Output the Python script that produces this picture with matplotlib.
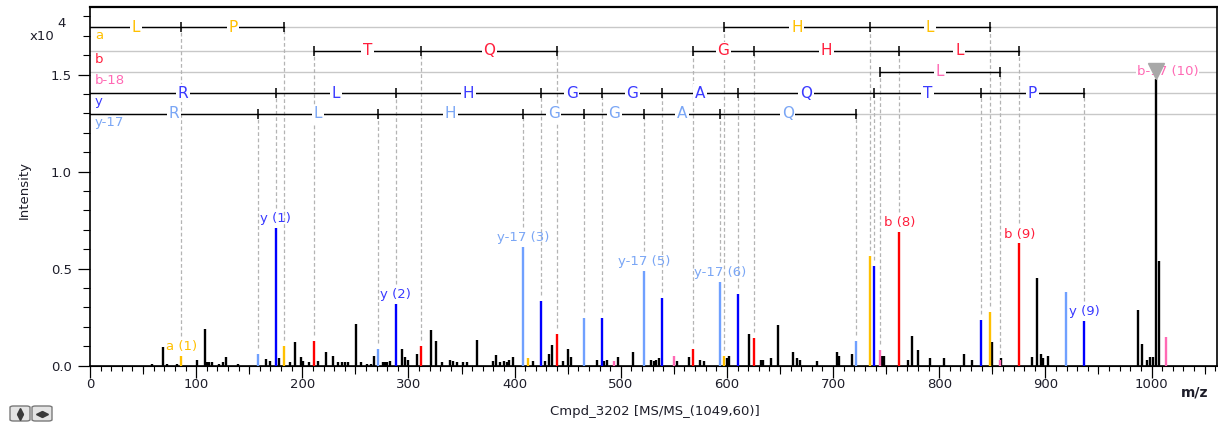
import matplotlib
matplotlib.use('Agg')
import matplotlib.pyplot as plt
from matplotlib.patches import FancyBboxPatch
from matplotlib.lines import Line2D
from matplotlib.ticker import MultipleLocator, FuncFormatter

# --- spectrum data (m/z, intensity in counts) ---
# unassigned peaks
other_mz = [58.7, 68.8, 72.5, 82.3, 100.5, 108.7, 110.5, 112.5, 114.5, 121.5, 125.0, 127.8,
            139.7, 165.5, 169.6, 177.7, 188.7, 193.1, 198.5, 201.0, 206.0, 214.8, 222.3,
            229.2, 234.0, 237.0, 240.0, 243.0, 250.8, 255.3, 260.6, 264.4, 267.5, 276.0,
            278.0, 280.0, 282.6, 294.2, 296.4, 299.3, 307.7, 321.5, 325.8, 331.9, 339.1,
            342.3, 345.4, 351.7, 354.8, 364.9, 380.0, 382.5, 386.2, 390.3, 392.5, 395.0,
            398.8, 417.6, 428.9, 432.7, 435.2, 445.6, 450.3, 453.1, 477.9, 484.5, 487.3,
            497.4, 511.8, 528.5, 531.0, 533.1, 535.7, 552.7, 564.0, 574.6, 578.7, 599.7,
            602.2, 620.5, 631.8, 634.3, 641.8, 648.0, 662.0, 665.7, 668.9, 684.6, 703.4,
            705.9, 717.6, 746.0, 748.0, 770.3, 774.1, 780.3, 791.6, 804.2, 823.4, 830.9,
            849.7, 858.5, 887.3, 892.4, 895.6, 897.5, 902.6, 987.0, 990.7, 995.7, 998.8,
            1001.7, 1004.2, 1006.6]
other_int = [90, 980, 90, 100, 310, 1870, 170, 170, 170, 100, 200, 430,
             90, 360, 240, 380, 170, 1200, 450, 240, 170, 240, 720,
             515, 170, 170, 170, 170, 2150, 170, 100, 100, 515, 170,
             170, 170, 240, 840, 450, 310, 585, 1820, 1270, 170, 310,
             240, 170, 170, 170, 1320, 240, 570, 170, 240, 170, 310,
             450, 240, 240, 585, 1050, 240, 840, 450, 310, 240, 310,
             450, 720, 310, 240, 310, 380, 240, 450, 310, 240, 380,
             515, 1630, 310, 310, 380, 2100, 720, 380, 310, 240, 720,
             500, 585, 515, 515, 310, 1550, 790, 380, 380, 585, 310,
             1200, 380, 450, 4500, 585, 380, 515, 2850, 1120, 310, 450,
             430, 15200, 5400]

# assigned fragment ions
a_mz = [86.10, 183.15, 412.26, 597.33, 734.39, 847.47]
a_int = [500, 1000, 380, 515, 5670, 2780]
b_mz = [211.14, 312.19, 440.25, 568.31, 625.33, 762.39, 875.47]
b_int = [1270, 1000, 1630, 860, 1410, 6900, 6300]
b18_mz = [493.28, 550.30, 744.38, 857.46, 1013.56]
b18_int = [240, 515, 790, 310, 1480]
y_mz = [175.12, 288.20, 425.26, 482.28, 539.30, 610.34, 738.40, 839.45, 936.50]
y_int = [7100, 3180, 3335, 2440, 3470, 3680, 5120, 2370, 2300]
y17_mz = [158.09, 271.18, 408.23, 465.25, 522.27, 593.31, 721.37, 919.47]
y17_int = [585, 840, 6130, 2440, 4900, 4300, 1270, 3800]

# sequence ladders: runs of ion m/z and the residues between them
a_ladder = [[0, 86.10, 183.15], [597.33, 734.39, 847.47]]
a_res = [['L', 'P'], ['H', 'L']]
b_ladder = [[211.14, 312.19, 440.25], [568.31, 625.33, 762.39, 875.47]]
b_res = [['T', 'Q'], ['G', 'H', 'L']]
b18_ladder = [[744.38, 857.46]]
b18_res = [['L']]
y_ladder = [[0, 175.12, 288.20, 425.26, 482.28, 539.30, 610.34, 738.40, 839.45, 936.50]]
y_res = [['R', 'L', 'H', 'G', 'G', 'A', 'Q', 'T', 'P']]
y17_ladder = [[0, 158.09, 271.18, 408.23, 465.25, 522.27, 593.31, 721.37]]
y17_res = [['R', 'L', 'H', 'G', 'G', 'A', 'Q']]

# annotated peaks
lab_mz = [86.10, 175.12, 288.20, 408.23, 522.27, 593.31, 762.39, 875.47, 936.50]
lab_txt = ['a (1)', 'y (1)', 'y (2)', 'y-17 (3)', 'y-17 (5)', 'y-17 (6)', 'b (8)', 'b (9)', 'y (9)']
prec_mz = 1004.2
prec_txt = 'b-17 (10)'
prec_txt_mz = 1015

# --- layout (pixels of the 1218x426 picture) ---
W, H = 1218, 426
AX_L, AX_R, AX_T, AX_B = 90, 1216.7, 7.3, 365.7
YMAX = 18470
XMAX = 1061.4
PX = YMAX / (AX_B - AX_T)          # intensity units per pixel
MZPX = XMAX / (AX_R - AX_L)        # m/z units per pixel
TXT = '#1e1e2a'
FS = 9.5


def row_y(py):
    return (AX_B - py) * PX


series = [
    # name, mz, int, ladder, residues, row pixel, peak colour, text colour
    ('a', a_mz, a_int, a_ladder, a_res, 27.3, '#FFC000', '#FFC000'),
    ('b', b_mz, b_int, b_ladder, b_res, 50.7, '#FF0000', '#FF1E3C'),
    ('b-18', b18_mz, b18_int, b18_ladder, b18_res, 71.7, '#FF69B4', '#FF69B4'),
    ('y', y_mz, y_int, y_ladder, y_res, 93.3, '#0000FF', '#3A3AFF'),
    ('y-17', y17_mz, y17_int, y17_ladder, y17_res, 114.0, '#6FA0FF', '#7AA6F5'),
]

fig = plt.figure(figsize=(W / 100, H / 100), dpi=100)
ax = fig.add_axes([AX_L / W, 1 - AX_B / H, (AX_R - AX_L) / W, (AX_B - AX_T) / H])
ax.set_xlim(0, XMAX)
ax.set_ylim(0, YMAX)

# unassigned peaks
ax.vlines(other_mz, 0, other_int, colors='black', lw=1.7, zorder=2.5)

all_int = dict(zip(a_mz + b_mz + b18_mz + y_mz + y17_mz,
                   a_int + b_int + b18_int + y_int + y17_int))
lab_color = {}
for name, mz, inten, ladder, res, py, pcol, tcol in series:
    yr = row_y(py)
    ax.axhline(yr, color='#C8C8C8', lw=1.0, zorder=1)
    ax.vlines(mz, 0, inten, colors=pcol, lw=1.7, zorder=2.6)
    ax.text(5 * MZPX, yr - 2 * PX, name, color=tcol,
            fontsize=FS, ha='left', va='top', zorder=4)
    for m in mz:
        lab_color[m] = tcol
    for run, rr in zip(ladder, res):
        ax.plot(run, [yr] * len(run), color='black', lw=1.0, zorder=3)
        ticks = [m for m in run if m > 0]
        ax.plot(ticks, [yr] * len(ticks), ls='none', marker='|', ms=7, mew=1.1,
                color='black', zorder=3)
        for m0, m1, r in zip(run[:-1], run[1:], rr):
            ax.text((m0 + m1) / 2, yr, r, color=tcol, fontsize=11, ha='center',
                    va='center', zorder=4,
                    bbox=dict(facecolor='white', edgecolor='none', pad=1.2))
        # dashed guides from ladder down to the matched peak
        for m in ticks:
            gap = 20 if m in lab_mz else 6
            ax.vlines(m, all_int[m] + gap * PX, yr, colors='#B4B4B4', lw=0.9,
                      linestyles=(0, (3, 2)), zorder=2)

# peak labels
for m, t in zip(lab_mz, lab_txt):
    ax.annotate(t, (m, all_int[m]), xytext=(0, 2), textcoords='offset points',
                ha='center', va='bottom', color=lab_color[m], fontsize=FS, zorder=5)

ax.text(prec_txt_mz, row_y(71.7), prec_txt, color='#FF69B4', fontsize=FS, ha='center',
        va='center', zorder=5, bbox=dict(facecolor='white', edgecolor='none', pad=0.5))
ax.plot([prec_mz], [max(other_int)], marker='v', ms=11, color='#A8A8A8', zorder=6)

# axes styling
for s in ax.spines.values():
    s.set_linewidth(1.2)
ax.spines['top'].set_linewidth(1.6)
ax.xaxis.set_major_locator(MultipleLocator(100))
ax.xaxis.set_minor_locator(MultipleLocator(10))
ax.yaxis.set_major_locator(MultipleLocator(5000))
ax.yaxis.set_minor_locator(MultipleLocator(1000))
ax.yaxis.set_major_formatter(FuncFormatter(lambda v, p: '%.1f' % (v / 1e4)))
ax.tick_params(axis='x', which='major', length=8.6, width=0.9, pad=0.5,
               labelsize=FS, labelcolor=TXT)
ax.tick_params(axis='x', which='minor', length=3.6, width=0.8)
ax.tick_params(axis='y', which='major', length=8.6, width=0.9, pad=4.5,
               labelsize=FS, labelcolor=TXT)
ax.tick_params(axis='y', which='minor', length=5, width=0.8)
sec = ax.secondary_xaxis('bottom')
sec.set_xticks(range(50, 1100, 100))
sec.tick_params(length=5.8, width=0.8, labelbottom=False)

fig.text(24 / W, 1 - 190 / H, 'Intensity', rotation=90, ha='center', va='center',
         fontsize=FS, color=TXT)
fig.text(655 / W, 1 - 411 / H, 'Cmpd_3202 [MS/MS_(1049,60)]', ha='center', va='center',
         fontsize=FS, color=TXT)
fig.text(1195 / W, 1 - 392 / H, 'm/z', ha='center', va='center', fontsize=10,
         fontweight='bold', color=TXT)
fig.text(30 / W, 1 - 40 / H, 'x10', ha='left', va='baseline', fontsize=FS, color=TXT)
fig.text(57 / W, 1 - 27 / H, '4', ha='left', va='baseline', fontsize=FS, color=TXT)

# the two little zoom buttons in the corner
for x0, marks in [(10, [('^', 0, -3), ('v', 0, 3)]), (32, [('<', -3, 0), ('>', 3, 0)])]:
    fig.patches.append(FancyBboxPatch((x0 / W, 1 - 421 / H), 20 / W, 15 / H,
                                      boxstyle='round,pad=0,rounding_size=0.003',
                                      fc='#E4E4E4', ec='#7A7A7A', lw=1,
                                      transform=fig.transFigure, figure=fig))
    for mk, dx, dy in marks:
        fig.add_artist(Line2D([(x0 + 10 + dx) / W], [1 - (413.5 + dy) / H], marker=mk,
                              ms=4, color='#3A3A3A', transform=fig.transFigure))

fig.savefig('out.png', dpi=100)
